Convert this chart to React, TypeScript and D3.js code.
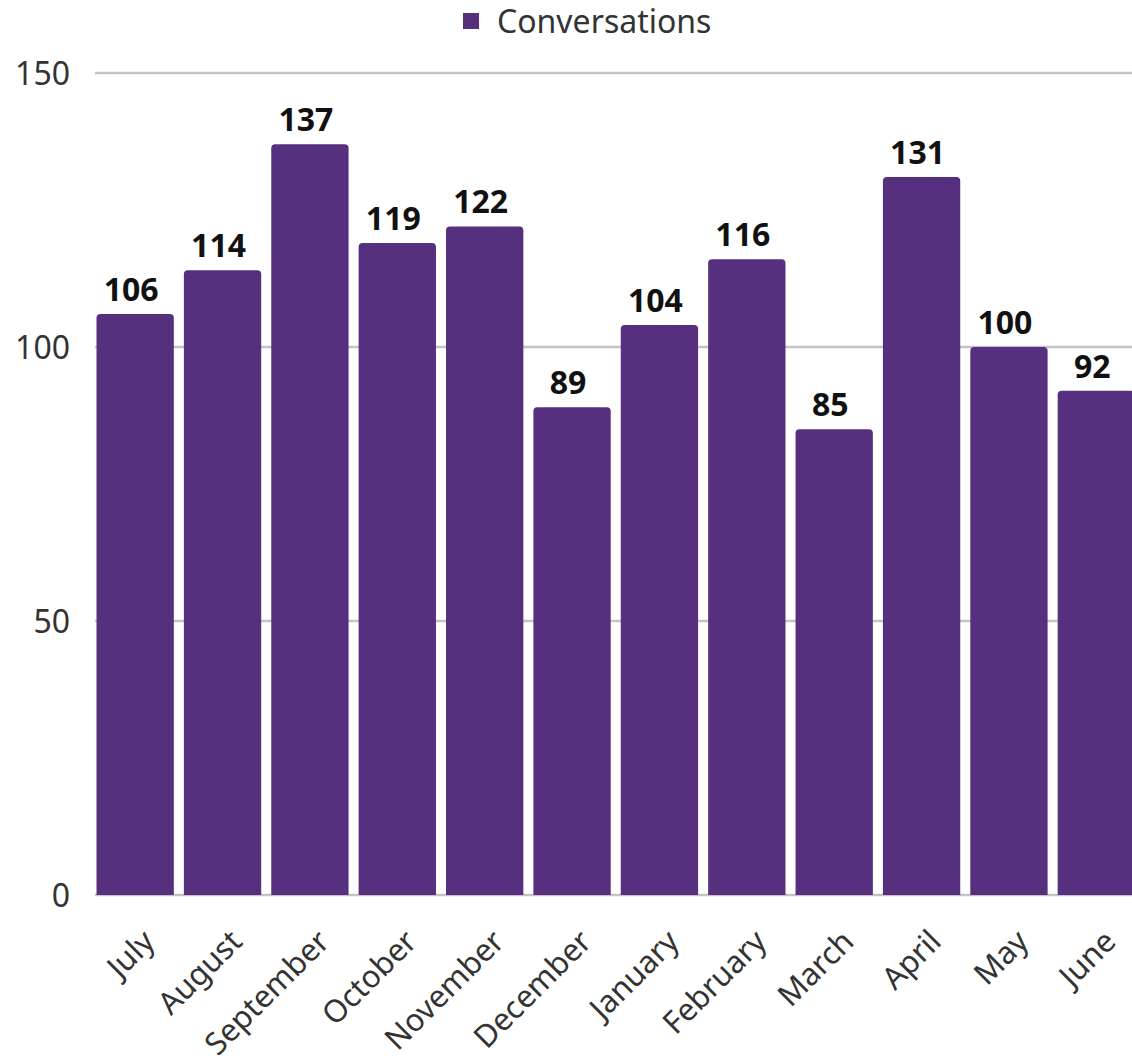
import React from "react";
import * as d3 from "d3";

const months = ["July","August","September","October","November","December","January","February","March","April","May","June"];
const conversations = [106,114,137,119,122,89,104,116,85,131,100,92];
const yTicks = [0,50,100,150];
const seriesName = "Conversations";

const W = 1132, H = 1063;
const FONT = "'Noto Sans', sans-serif";
const BAR = "#56307f";

export default function App() {
  const x = d3.scaleBand<string>().domain(months).range([96.5, 1135]).paddingInner(0.115).paddingOuter(0);
  const y = d3.scaleLinear().domain([0, 150]).range([895, 73]);
  const bw = x.bandwidth();
  const r = 4;
  const barPath = (x0: number, y0: number, w: number, y1: number) => {
    const h = y1 - y0;
    const rr = Math.min(r, h);
    return `M${x0},${y1}V${y0 + rr}Q${x0},${y0} ${x0 + rr},${y0}H${x0 + w - rr}Q${x0 + w},${y0} ${x0 + w},${y0 + rr}V${y1}Z`;
  };
  return (
    <svg width={W} height={H} style={{ position: "absolute", left: 0, top: 0, background: "#fff" }}>
      {yTicks.map(t => (
        <g key={t}>
          <line x1={95} x2={W} y1={y(t)} y2={y(t)} stroke="#c4c4c4" strokeWidth={2.5} />
          <text x={70} y={y(t)} dy="0.36em" textAnchor="end" fontFamily={FONT} fontSize={32} fill="#333">{t}</text>
        </g>
      ))}
      {months.map((m, i) => (
        <path key={m} d={barPath(x(m)!, y(conversations[i]), bw, y(0))} fill={BAR} />
      ))}
      {months.map((m, i) => {
        const cx = Math.min(x(m)! + bw / 2 - 4, W - 27);
        return (
          <text key={m} x={cx} y={y(conversations[i]) - 13} textAnchor="middle" fontFamily={FONT} fontWeight="bold" fontSize={32} fill="#111">{conversations[i]}</text>
        );
      })}
      {months.map(m => {
        const ax = x(m)! + bw / 2 + 6;
        const ay = 928;
        return (
          <text key={m} transform={`translate(${ax},${ay}) rotate(-45)`} textAnchor="end" dy="0.7em" fontFamily={FONT} fontSize={31} fill="#333">{m}</text>
        );
      })}
      <rect x={463} y={13} width={16} height={16} fill={BAR} />
      <text x={497} y={21} dy="0.36em" fontFamily={FONT} fontSize={32} fill="#333">{seriesName}</text>
    </svg>
  );
}
